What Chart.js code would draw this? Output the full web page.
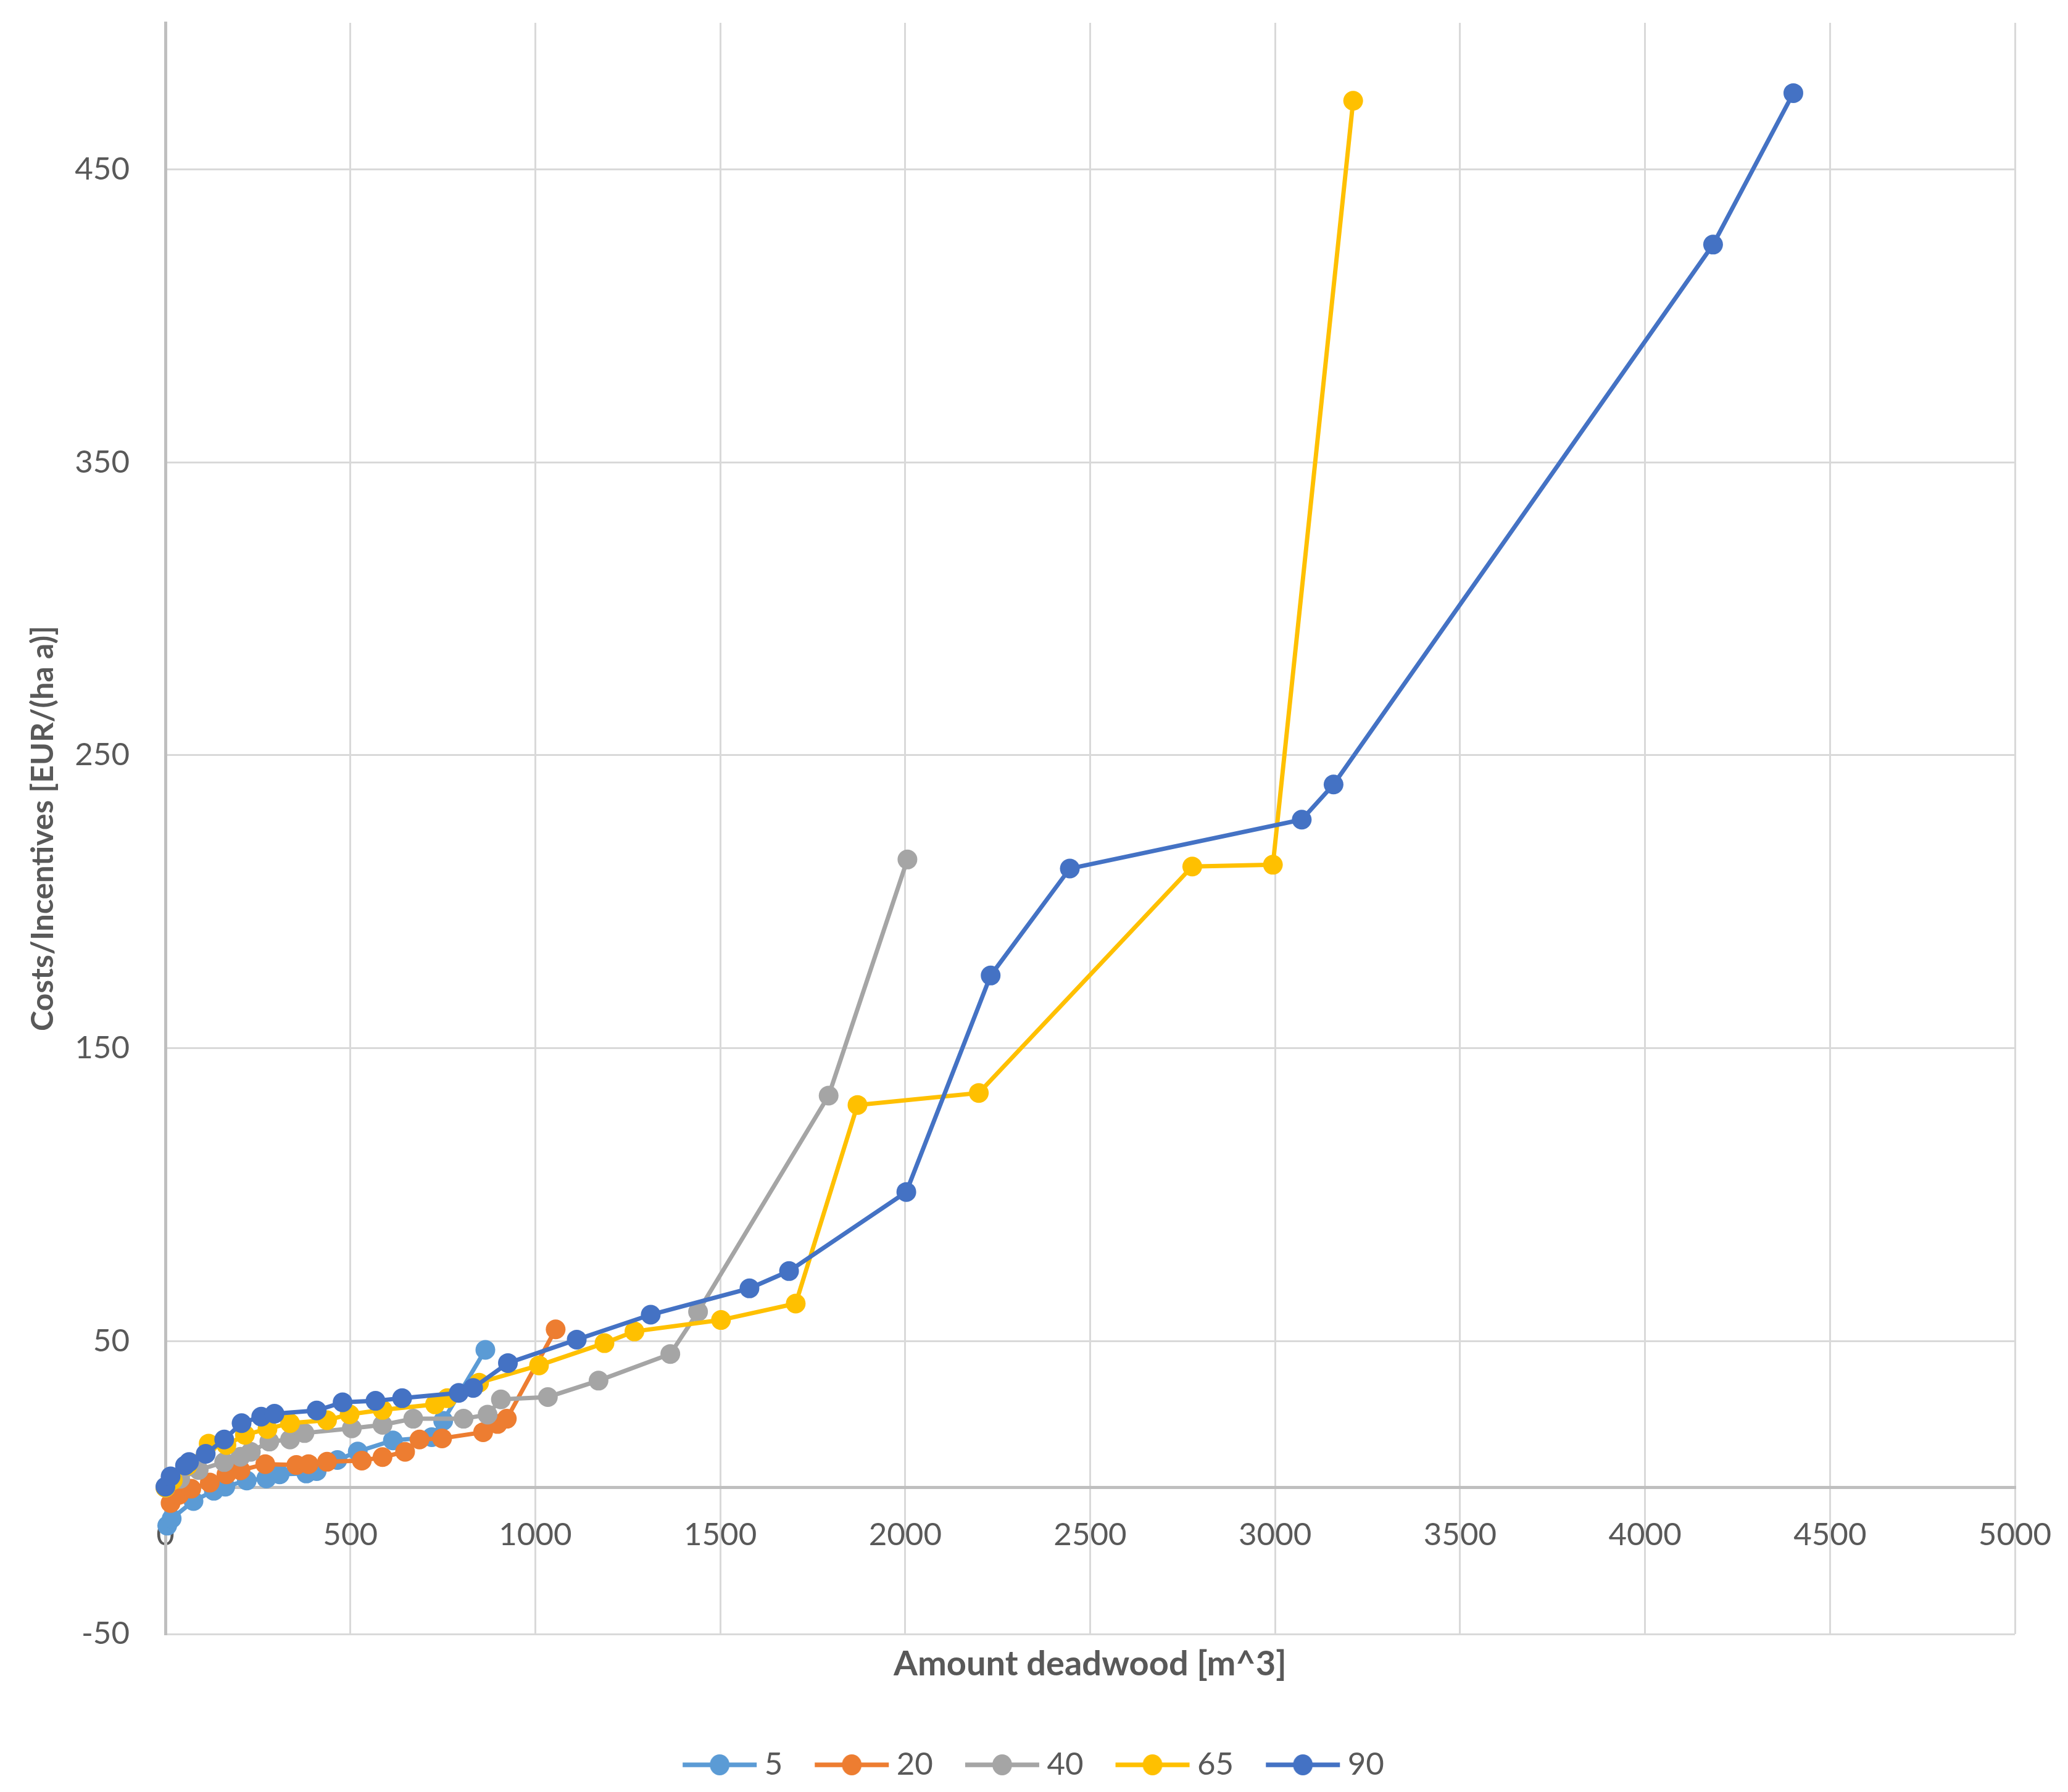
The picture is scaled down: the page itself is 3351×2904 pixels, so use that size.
<!DOCTYPE html>
<html>
<head>
<meta charset="utf-8">
<script src="https://cdn.jsdelivr.net/npm/chart.js@4.4.1/dist/chart.umd.min.js"></script>
<style>
  html, body { margin: 0; padding: 0; background: #ffffff; }
  #wrap { width: 3351px; height: 2904px; }
</style>
</head>
<body>
<div id="wrap"><canvas id="c" width="3351" height="2904"></canvas></div>
<script>
// ---- Data ----
const seriesNames = ['5', '20', '40', '65', '90'];
const seriesColors = ['#5B9BD5', '#ED7D31', '#A5A5A5', '#FFC000', '#4472C4'];

const s5x = [5, 17, 76, 131, 162, 220, 273, 309, 381, 409, 465, 520, 615, 720, 751, 865];
const s5y = [-13, -10.6, -4.6, -1.1, 0.3, 2.4, 3.1, 4.5, 4.8, 5.6, 9.4, 12.3, 16.1, 17.2, 22.8, 47];

const s20x = [14, 37, 70, 120, 165, 203, 270, 354, 387, 437, 531, 587, 648, 687, 748, 859, 898, 923, 1055];
const s20y = [-5.3, -2.5, -0.4, 1.7, 4.5, 5.9, 8, 7.7, 8, 8.8, 9.2, 10.4, 12.2, 16.4, 16.8, 18.9, 21.7, 23.5, 54];

const s40x = [0, 40, 90, 159, 203, 231, 281, 337, 376, 504, 587, 670, 806, 871, 907, 1034, 1171, 1365, 1440, 1793, 2006];
const s40y = [0, 3, 6, 8.7, 10.5, 12.2, 15.7, 16.4, 18.6, 20.2, 21.4, 23.5, 23.5, 24.9, 30.1, 30.9, 36.5, 45.6, 60, 133.8, 214.4];

const s65x = [0, 20, 60, 117, 165, 215, 276, 337, 437, 498, 587, 729, 762, 848, 1010, 1187, 1268, 1502, 1704, 1871, 2199, 2776, 2994, 3211];
const s65y = [0, 2.5, 7.5, 15, 14.5, 18, 20, 22, 23, 25, 26.5, 28.4, 30.5, 35.8, 41.7, 49.3, 53.3, 57.2, 62.8, 130.6, 134.7, 212, 212.6, 473.4];

const s90x = [0, 14, 53, 64, 109, 159, 206, 259, 295, 409, 479, 568, 640, 793, 832, 926, 1112, 1312, 1579, 1686, 2003, 2231, 2445, 3072, 3158, 4184, 4401];
const s90y = [0.3, 3.8, 7.5, 8.7, 11.5, 16.4, 22, 24.2, 25.2, 26.3, 29.1, 29.6, 30.5, 32.3, 34, 42.5, 50.5, 59, 68, 73.9, 100.9, 174.8, 211.3, 228, 240, 424.3, 476];

const xTicks = [0, 500, 1000, 1500, 2000, 2500, 3000, 3500, 4000, 4500, 5000];
const yTicks = [-50, 50, 150, 250, 350, 450];

const xTitle = 'Amount deadwood [m^3]';
const yTitle = 'Costs/Incentives [EUR/(ha a)]';

// ---- Build chart ----
const allX = [s5x, s20x, s40x, s65x, s90x];
const allY = [s5y, s20y, s40y, s65y, s90y];
const TEXT = '#595959';
const FONT = 'Lato';

function toPoints(xs, ys) { return xs.map((x, i) => ({ x: x, y: ys[i] })); }

function markerImg(color) {
  const c = document.createElement('canvas');
  c.width = 124; c.height = 36;
  const g = c.getContext('2d');
  g.strokeStyle = color; g.lineWidth = 7.5;
  g.beginPath(); g.moveTo(2, 18); g.lineTo(122, 18); g.stroke();
  g.fillStyle = color;
  g.beginPath(); g.ellipse(62, 18, 16, 17, 0, 0, Math.PI * 2); g.fill();
  return c;
}

const datasets = seriesNames.map((name, i) => ({
  label: name,
  data: toPoints(allX[i], allY[i]),
  borderColor: seriesColors[i],
  backgroundColor: seriesColors[i],
  pointBackgroundColor: seriesColors[i],
  pointBorderColor: seriesColors[i],
  borderWidth: 7,
  pointRadius: 16,
  pointBorderWidth: 0,
  pointHoverRadius: 16,
  tension: 0,
  clip: false,
  order: seriesNames.length - 1 - i
}));

function draw() {
  new Chart(document.getElementById('c'), {
    type: 'line',
    data: { datasets: datasets },
    options: {
      responsive: false,
      animation: false,
      devicePixelRatio: 1,
      events: [],
      layout: { padding: { top: 37, right: 86, bottom: 8.5, left: 97 } },
      scales: {
        x: {
          type: 'linear',
          position: { y: 0 },
          min: 0, max: 5000,
          afterBuildTicks: s => { s.ticks = xTicks.map(v => ({ value: v })); },
          afterFit: s => { s.paddingLeft = 0; s.paddingRight = 0; },
          grid: { color: '#D9D9D9', lineWidth: 3, drawTicks: false },
          border: { display: true, color: '#BFBFBF', width: 5 },
          ticks: {
            padding: 46, maxRotation: 0, autoSkip: false, color: TEXT,
            font: { family: FONT, size: 51 },
            callback: v => String(v)
          }
        },
        y: {
          type: 'linear',
          position: 'left',
          min: -50, max: 500,
          afterBuildTicks: s => { s.ticks = yTicks.map(v => ({ value: v })); },
          afterFit: s => { s.width = 171; s.paddingTop = 0; s.paddingBottom = 0; },
          grid: { color: '#D9D9D9', lineWidth: 3, drawTicks: false },
          border: { display: true, color: '#BFBFBF', width: 5 },
          ticks: { padding: 58, color: TEXT, font: { family: FONT, size: 51 }, callback: v => String(v) },
          title: {
            display: true, text: yTitle, color: TEXT,
            font: { family: FONT, size: 50, weight: 'bold', lineHeight: 1.2 },
            padding: { top: -57, bottom: 0 }
          }
        }
      },
      plugins: {
        tooltip: { enabled: false },
        title: {
          display: true, position: 'bottom', fullSize: false, weight: 500,
          text: xTitle, color: TEXT,
          font: { family: FONT, size: 56, weight: 'bold', lineHeight: 1.2 },
          padding: { top: 15.4, bottom: 38.9 }
        },
        legend: {
          display: true, position: 'bottom',
          labels: {
            usePointStyle: true, pointStyleWidth: 94, padding: 65,
            color: TEXT, font: { family: FONT, size: 51 },
            generateLabels: chart => chart.data.datasets.map((ds, i) => ({
              text: ds.label, fillStyle: ds.borderColor, strokeStyle: ds.borderColor,
              fontColor: TEXT, lineWidth: 0, hidden: false, datasetIndex: i,
              pointStyle: markerImg(ds.borderColor)
            }))
          }
        }
      }
    }
  });
}

if (document.fonts && document.fonts.load) {
  Promise.all([document.fonts.load('51px Lato'), document.fonts.load('bold 56px Lato')]).then(draw, draw);
} else { draw(); }
</script>
</body>
</html>
